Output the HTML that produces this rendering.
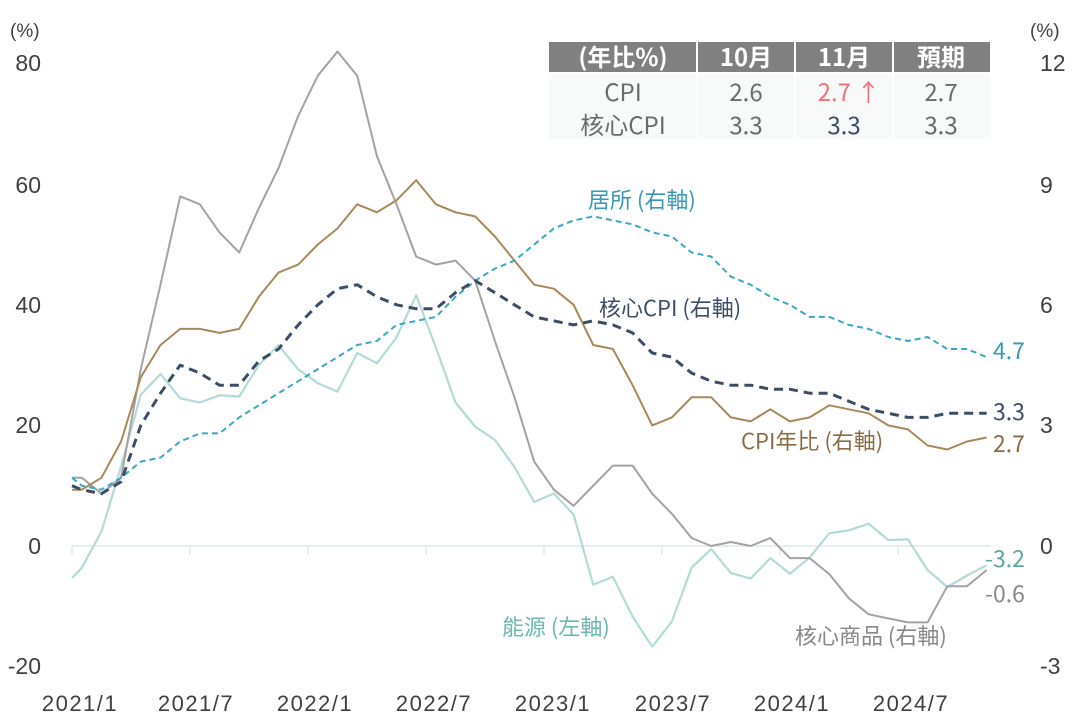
<!DOCTYPE html>
<html><head><meta charset="utf-8"><style>
body{margin:0;background:#fff;}
svg{display:block;font-family:"Noto Sans CJK TC","Liberation Sans",sans-serif;}
</style></head><body>
<svg id="s" width="1077" height="718" viewBox="0 0 1077 718">
<rect width="1077" height="718" fill="#fff"/>
<g font-size="21" fill="#404040" font-family="Liberation Sans, Noto Sans CJK TC, sans-serif">
<text x="10" y="37" font-size="19">(%)</text>
<text x="1030" y="37" font-size="19">(%)</text>
<g text-anchor="end" font-size="23">
<text x="41" y="71">80</text><text x="41" y="193">60</text><text x="41" y="313">40</text>
<text x="41" y="433">20</text><text x="41" y="554">0</text><text x="41" y="674">-20</text>
</g>
<g font-size="23">
<text x="1040" y="71">12</text><text x="1040" y="193">9</text><text x="1040" y="313">6</text>
<text x="1040" y="433">3</text><text x="1040" y="554">0</text><text x="1040" y="674">-3</text>
</g>
<g text-anchor="middle" font-size="22" letter-spacing="1.5">
<text x="80" y="711">2021/1</text><text x="196" y="711">2021/7</text><text x="315" y="711">2022/1</text>
<text x="434" y="711">2022/7</text><text x="553" y="711">2023/1</text><text x="673" y="711">2023/7</text>
<text x="792" y="711">2024/1</text><text x="911" y="711">2024/7</text>
</g>
</g>
<line x1="72" y1="546" x2="990" y2="546" stroke="#dde9e8" stroke-width="1.5"/>
<g id="ticks" stroke="#dde9e8" stroke-width="1.5"></g>
<g id="lines" fill="none"></g>
<!-- table -->
<rect x="549" y="42" width="441" height="31" fill="#808080"/>
<rect x="549" y="73" width="441" height="66" fill="#f7faf9"/>
<g stroke="#fff" stroke-width="2"><line x1="697" y1="42" x2="697" y2="139"/><line x1="795" y1="42" x2="795" y2="139"/><line x1="893" y1="42" x2="893" y2="139"/><line x1="549" y1="73" x2="990" y2="73"/></g>
<g font-size="24" text-anchor="middle">
<g fill="#fff" font-weight="bold"><text x="623" y="66">(年比%)</text><text x="746" y="66">10月</text><text x="844" y="66">11月</text><text x="941" y="66">預期</text></g>
<g fill="#6b6b6b"><text x="623" y="101">CPI</text><text x="746" y="101">2.6</text><text x="941" y="101">2.7</text>
<text x="623" y="134">核心CPI</text><text x="746" y="134">3.3</text><text x="941" y="134">3.3</text></g>
<text x="849" y="101" fill="#f2707a">2.7 ↑</text>
<text x="844" y="134" fill="#3d4d66">3.3</text>
</g>
<g font-size="22">
<text x="588" y="208" fill="#3a9ab5">居所 (右軸)</text>
<text x="599" y="316" fill="#3d4d66">核心CPI (右軸)</text>
<text x="741" y="449" fill="#8a6d45">CPI年比 (右軸)</text>
<text x="502" y="635" fill="#6fb8b1">能源 (左軸)</text>
<text x="795" y="644" fill="#888">核心商品 (右軸)</text>
<text x="993" y="359" fill="#3a9ab5" font-size="23">4.7</text>
<text x="993" y="420" fill="#3d4d66" font-size="23">3.3</text>
<text x="993" y="452" fill="#8a6d45" font-size="23">2.7</text>
<text x="985" y="567" fill="#5aa9a0" font-size="23">-3.2</text>
<text x="985" y="602" fill="#888" font-size="23">-0.6</text>
</g>
</svg>
<script>
var cpi=[1.4,1.7,2.6,4.2,5.0,5.4,5.4,5.3,5.4,6.2,6.8,7.0,7.5,7.9,8.5,8.3,8.6,9.1,8.5,8.3,8.2,7.7,7.1,6.5,6.4,6.0,5.0,4.9,4.0,3.0,3.2,3.7,3.7,3.2,3.1,3.4,3.1,3.2,3.5,3.4,3.3,3.0,2.9,2.5,2.4,2.6,2.7];
var core=[1.4,1.3,1.6,3.0,3.8,4.5,4.3,4.0,4.0,4.6,4.9,5.5,6.0,6.4,6.5,6.2,6.0,5.9,5.9,6.3,6.6,6.3,6.0,5.7,5.6,5.5,5.6,5.5,5.3,4.8,4.7,4.3,4.1,4.0,4.0,3.9,3.9,3.8,3.8,3.6,3.4,3.3,3.2,3.2,3.3,3.3,3.3];
var shel=[1.5,1.4,1.7,2.1,2.2,2.6,2.8,2.8,3.2,3.5,3.8,4.1,4.4,4.7,5.0,5.1,5.5,5.6,5.7,6.2,6.6,6.9,7.1,7.5,7.9,8.1,8.2,8.1,8.0,7.8,7.7,7.3,7.2,6.7,6.5,6.2,6.0,5.7,5.7,5.5,5.4,5.2,5.1,5.2,4.9,4.9,4.7];
var cg=[1.7,1.3,1.7,4.4,6.5,8.7,8.5,7.8,7.3,8.4,9.4,10.7,11.7,12.3,11.7,9.7,8.5,7.2,7.0,7.1,6.6,5.1,3.7,2.1,1.4,1.0,1.5,2.0,2.0,1.3,0.8,0.2,0.0,0.1,0.0,0.2,-0.3,-0.3,-0.7,-1.3,-1.7,-1.8,-1.9,-1.9,-1.0,-1.0,-0.6];
var en=[-3.6,2.4,13.2,25.1,28.5,24.5,23.8,25.0,24.8,30.0,33.3,29.3,27.0,25.6,32.0,30.3,34.6,41.6,32.9,23.8,19.8,17.6,13.1,7.3,8.7,5.2,-6.4,-5.1,-11.7,-16.7,-12.5,-3.6,-0.5,-4.5,-5.4,-2.0,-4.6,-1.9,2.1,2.6,3.7,1.0,1.1,-4.0,-6.8,-4.9,-3.2];
function pts(a,k,first){var p=[[72,546-first*k]];for(var i=0;i<a.length;i++)p.push([81.8+19.67*i,546-a[i]*k]);return p.map(function(q){return q[0].toFixed(1)+','+q[1].toFixed(1)}).join(' ');}
var R=40.2,L=6.03;
var g=document.getElementById('lines');
function add(p,c,w,d){var e=document.createElementNS('http://www.w3.org/2000/svg','polyline');e.setAttribute('points',p);e.setAttribute('stroke',c);e.setAttribute('stroke-width',w);e.setAttribute('stroke-linejoin','round');if(d)e.setAttribute('stroke-dasharray',d);g.appendChild(e);}
add(pts(en,L,-5.3),'#b3dcd8',2.2);
add(pts(cg,R,1.7),'#a3a3a3',2);
add(pts(cpi,R,1.4),'#a8895b',2);
add(pts(shel,R,1.7),'#3ba8c4',2,'6,4');
add(pts(core,R,1.5),'#3d4d66',3,'9,6');
var t=document.getElementById('ticks');
for(var i=0;i<8;i++){var x=72+118*i;var e=document.createElementNS('http://www.w3.org/2000/svg','line');e.setAttribute('x1',x);e.setAttribute('x2',x);e.setAttribute('y1',546);e.setAttribute('y2',555);t.appendChild(e);}
</script>
</body></html>
